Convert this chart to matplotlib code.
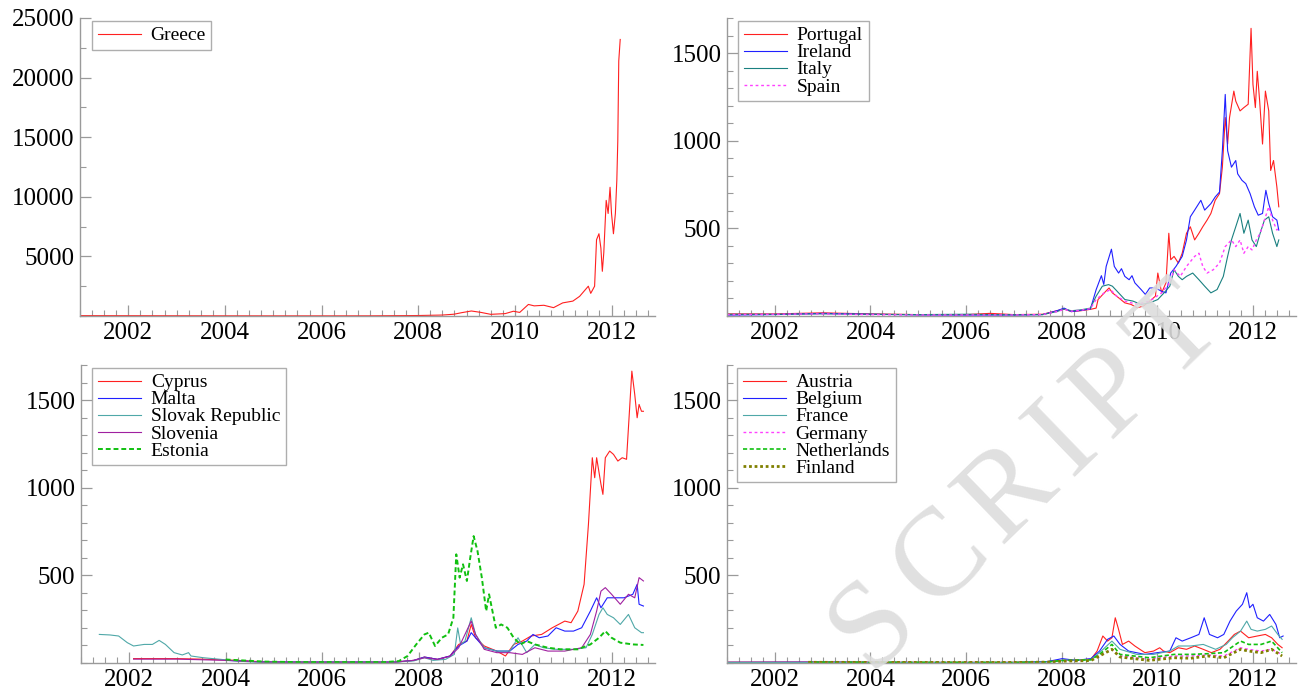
import matplotlib
matplotlib.use('Agg')
import matplotlib.pyplot as plt
from matplotlib.ticker import MultipleLocator, FixedLocator

plt.rcParams['font.family'] = ['Liberation Serif', 'DejaVu Serif']

# ---- data (decimal year, spread) ----
greece_x = [2001.0, 2002.0, 2003.0, 2004.0, 2005.0, 2006.0, 2007.0, 2008.0, 2008.5, 2008.74,
            2008.9, 2009.1, 2009.3, 2009.5, 2009.8, 2009.97, 2010.1, 2010.28, 2010.4, 2010.6,
            2010.8, 2010.99, 2011.2, 2011.34, 2011.52, 2011.57, 2011.65, 2011.69, 2011.74, 2011.78,
            2011.81, 2011.84, 2011.89, 2011.93, 2011.97, 2012.0, 2012.04, 2012.08, 2012.11, 2012.13,
            2012.15, 2012.18]
greece_y = [30, 25, 20, 15, 12, 12, 15, 40, 80, 150,
            280, 420, 300, 140, 200, 400, 300, 970, 850, 900,
            700, 1100, 1250, 1650, 2500, 1900, 2500, 6400, 6900, 5700,
            3750, 5300, 9700, 8600, 10800, 8600, 6900, 8600, 11400, 14700,
            21400, 23200]

portugal_x = [2001.0, 2002.0, 2003.0, 2004.0, 2005.0, 2006.0, 2006.5, 2007.0, 2007.6, 2007.9,
              2008.05, 2008.2, 2008.4, 2008.6, 2008.72, 2008.76, 2008.89, 2008.99, 2009.06, 2009.19,
              2009.32, 2009.45, 2009.58, 2009.71, 2009.84, 2009.96, 2010.01, 2010.09, 2010.18, 2010.24,
              2010.28, 2010.35, 2010.44, 2010.52, 2010.61, 2010.69, 2010.78, 2010.87, 2010.95, 2011.04,
              2011.12, 2011.21, 2011.30, 2011.36, 2011.42, 2011.47, 2011.51, 2011.60, 2011.64, 2011.73,
              2011.81, 2011.90, 2011.96, 2012.00, 2012.05, 2012.09, 2012.14, 2012.20, 2012.26, 2012.33,
              2012.37, 2012.43, 2012.50, 2012.54]
portugal_y = [12, 12, 18, 12, 8, 8, 15, 8, 10, 30,
              40, 25, 30, 38, 45, 94, 132, 160, 132, 104,
              75, 66, 47, 57, 85, 113, 245, 132, 189, 472,
              321, 340, 302, 358, 472, 509, 434, 472, 509, 547,
              585, 660, 698, 849, 1132, 981, 1132, 1283, 1226, 1170,
              1189, 1208, 1641, 1321, 1189, 1396, 1226, 981, 1283, 1170,
              830, 887, 736, 623]

ireland_x = [2001.0, 2002.0, 2003.0, 2004.0, 2005.0, 2006.0, 2007.0, 2007.6, 2007.9, 2008.05,
             2008.2, 2008.4, 2008.6, 2008.72, 2008.83, 2008.88, 2008.93, 2009.04, 2009.10, 2009.19,
             2009.25, 2009.32, 2009.41, 2009.47, 2009.53, 2009.66, 2009.75, 2009.84, 2009.96, 2010.09,
             2010.18, 2010.28, 2010.39, 2010.52, 2010.61, 2010.69, 2010.78, 2010.91, 2010.99, 2011.12,
             2011.21, 2011.30, 2011.36, 2011.42, 2011.47, 2011.55, 2011.64, 2011.68, 2011.77, 2011.85,
             2011.94, 2012.03, 2012.11, 2012.20, 2012.27, 2012.33, 2012.41, 2012.50, 2012.54]
ireland_y = [5, 8, 15, 10, 6, 5, 5, 8, 30, 45,
             25, 32, 40, 150, 230, 180, 283, 381, 283, 245,
             270, 226, 207, 230, 189, 151, 123, 160, 160, 141,
             132, 245, 283, 340, 434, 566, 604, 660, 604, 641,
             679, 707, 943, 1264, 943, 849, 887, 811, 774, 755,
             698, 623, 575, 585, 717, 641, 566, 547, 490]

italy_x = [2001.0, 2002.0, 2003.0, 2004.0, 2005.0, 2006.0, 2007.0, 2007.6, 2007.9, 2008.05,
           2008.2, 2008.4, 2008.6, 2008.72, 2008.85, 2008.98, 2009.06, 2009.19, 2009.32, 2009.49,
           2009.66, 2009.84, 2010.01, 2010.14, 2010.26, 2010.35, 2010.44, 2010.52, 2010.61, 2010.74,
           2010.87, 2010.99, 2011.12, 2011.25, 2011.38, 2011.47, 2011.55, 2011.64, 2011.73, 2011.81,
           2011.90, 2011.98, 2012.07, 2012.15, 2012.24, 2012.33, 2012.41, 2012.50, 2012.54]
italy_y = [10, 10, 12, 10, 8, 10, 7, 8, 25, 40,
           30, 35, 45, 113, 170, 179, 170, 132, 94, 85,
           66, 75, 94, 132, 170, 264, 226, 207, 226, 245,
           207, 170, 132, 151, 226, 340, 434, 509, 585, 472,
           547, 434, 396, 472, 547, 566, 472, 396, 434]

spain_x = [2001.0, 2002.0, 2003.0, 2004.0, 2005.0, 2006.0, 2007.0, 2007.6, 2007.9, 2008.05,
           2008.2, 2008.4, 2008.6, 2008.72, 2008.89, 2009.02, 2009.15, 2009.32, 2009.58, 2009.84,
           2010.09, 2010.26, 2010.35, 2010.48, 2010.61, 2010.78, 2010.87, 2010.95, 2011.04, 2011.17,
           2011.30, 2011.42, 2011.55, 2011.64, 2011.73, 2011.81, 2011.90, 2011.98, 2012.07, 2012.15,
           2012.24, 2012.33, 2012.41, 2012.50, 2012.54]
spain_y = [8, 10, 12, 8, 6, 6, 6, 8, 25, 38,
           28, 33, 42, 94, 132, 151, 113, 85, 66, 85,
           132, 189, 264, 226, 283, 340, 358, 283, 245, 264,
           302, 396, 434, 396, 434, 358, 396, 377, 434, 472,
           547, 623, 547, 490, 509]

cyprus_x = [2002.09, 2003.0, 2003.5, 2004.25, 2004.8, 2005.5, 2006.5, 2007.5, 2007.9, 2008.12,
            2008.39, 2008.65, 2008.83, 2009.00, 2009.09, 2009.18, 2009.36, 2009.62, 2009.80, 2009.97,
            2010.15, 2010.33, 2010.55, 2010.77, 2011.03, 2011.16, 2011.30, 2011.43, 2011.52, 2011.60,
            2011.65, 2011.69, 2011.78, 2011.82, 2011.87, 2011.96, 2012.04, 2012.13, 2012.22, 2012.31,
            2012.37, 2012.42, 2012.48, 2012.53, 2012.57, 2012.62, 2012.66]
cyprus_y = [25, 25, 22, 15, 6, 5, 5, 5, 15, 34,
            21, 40, 106, 125, 220, 144, 97, 68, 40, 106,
            125, 154, 163, 201, 239, 230, 296, 449, 791, 1171,
            1057, 1171, 1019, 962, 1171, 1209, 1190, 1152, 1171, 1162,
            1436, 1665, 1532, 1399, 1475, 1436, 1436]

malta_x = [2004.0, 2004.8, 2005.5, 2006.5, 2007.5, 2007.9, 2008.12, 2008.39, 2008.65, 2008.83,
           2009.00, 2009.09, 2009.18, 2009.36, 2009.62, 2009.89, 2010.06, 2010.24, 2010.37, 2010.50,
           2010.68, 2010.85, 2011.03, 2011.21, 2011.38, 2011.56, 2011.69, 2011.78, 2011.91, 2012.09,
           2012.26, 2012.44, 2012.53, 2012.57, 2012.66]
malta_y = [15, 6, 5, 5, 5, 15, 34, 21, 40, 97,
           125, 173, 144, 87, 68, 68, 106, 125, 163, 144,
           154, 201, 182, 182, 201, 296, 372, 315, 372, 372,
           372, 392, 449, 335, 325]

slovak_x = [2001.38, 2001.60, 2001.78, 2001.96, 2002.09, 2002.31, 2002.48, 2002.62, 2002.75, 2002.93,
            2003.10, 2003.23, 2003.28, 2003.54, 2003.89, 2004.25, 2004.60, 2005.5, 2006.5, 2007.5,
            2007.9, 2008.12, 2008.30, 2008.56, 2008.74, 2008.81, 2008.87, 2008.96, 2009.09, 2009.18,
            2009.36, 2009.62, 2009.89, 2010.06, 2010.24, 2010.41, 2010.59, 2010.85, 2011.21, 2011.47,
            2011.60, 2011.74, 2011.82, 2011.91, 2012.04, 2012.18, 2012.35, 2012.48, 2012.62, 2012.66]
slovak_y = [163, 160, 154, 116, 97, 106, 106, 129, 106, 59,
            46, 59, 40, 30, 21, 11, 5, 5, 6, 5,
            12, 30, 15, 21, 49, 200, 106, 125, 258, 163,
            87, 68, 68, 144, 59, 106, 87, 78, 78, 87,
            163, 277, 315, 277, 258, 220, 277, 201, 173, 173]

slovenia_x = [2002.09, 2003.0, 2004.0, 2004.8, 2005.5, 2006.5, 2007.5, 2007.9, 2008.12, 2008.39,
              2008.65, 2008.83, 2009.09, 2009.18, 2009.36, 2009.62, 2009.89, 2010.15, 2010.41, 2010.68,
              2011.03, 2011.38, 2011.56, 2011.69, 2011.78, 2011.87, 2012.00, 2012.18, 2012.35, 2012.48,
              2012.57, 2012.66]
slovenia_y = [22, 22, 15, 6, 5, 5, 5, 15, 30, 20,
              38, 87, 239, 163, 78, 59, 59, 49, 87, 68,
              68, 87, 163, 296, 410, 430, 392, 335, 392, 372,
              487, 468]

estonia_x = [2004.0, 2004.8, 2005.5, 2006.5, 2007.3, 2007.59, 2007.77, 2007.95, 2008.12, 2008.21,
             2008.34, 2008.48, 2008.61, 2008.72, 2008.78, 2008.85, 2008.92, 2009.00, 2009.07, 2009.14,
             2009.22, 2009.31, 2009.40, 2009.46, 2009.53, 2009.60, 2009.71, 2009.84, 2009.97, 2010.11,
             2010.24, 2010.41, 2010.68, 2010.94, 2011.30, 2011.56, 2011.74, 2011.87, 2012.00, 2012.18,
             2012.44, 2012.66]
estonia_y = [20, 8, 5, 5, 5, 11, 40, 106, 163, 173,
             97, 144, 163, 258, 620, 487, 563, 468, 601, 724,
             639, 487, 296, 392, 296, 201, 220, 201, 144, 106,
             125, 106, 87, 78, 78, 106, 144, 182, 144, 116,
             106, 103]

austria_x = [2001.0, 2003.0, 2005.0, 2007.0, 2007.7, 2008.01, 2008.61, 2008.74, 2008.86, 2008.96,
             2009.05, 2009.12, 2009.18, 2009.27, 2009.40, 2009.53, 2009.74, 2009.92, 2010.05, 2010.13,
             2010.26, 2010.44, 2010.61, 2010.78, 2010.96, 2011.13, 2011.31, 2011.48, 2011.61, 2011.74,
             2011.91, 2012.09, 2012.26, 2012.39, 2012.52, 2012.61]
austria_y = [5, 6, 4, 4, 8, 15, 21, 68, 154, 125,
             144, 258, 201, 106, 125, 97, 59, 68, 87, 68,
             59, 87, 78, 97, 78, 59, 78, 125, 163, 182,
             144, 154, 163, 144, 106, 87]

belgium_x = [2001.0, 2003.0, 2005.0, 2007.0, 2007.7, 2008.01, 2008.3, 2008.61, 2008.79, 2008.96,
             2009.09, 2009.22, 2009.40, 2009.74, 2010.00, 2010.26, 2010.39, 2010.52, 2010.70, 2010.87,
             2010.98, 2011.09, 2011.26, 2011.39, 2011.52, 2011.65, 2011.78, 2011.87, 2011.93, 2012.00,
             2012.09, 2012.22, 2012.35, 2012.48, 2012.56, 2012.63]
belgium_y = [4, 5, 3, 3, 8, 25, 15, 25, 68, 135,
             154, 106, 68, 49, 59, 68, 144, 125, 144, 163,
             258, 163, 144, 163, 239, 296, 335, 401, 315, 335,
             258, 239, 277, 220, 144, 154]

france_x = [2001.0, 2005.0, 2007.0, 2007.7, 2008.01, 2008.61, 2008.79, 2009.05, 2009.22, 2009.57,
            2009.92, 2010.26, 2010.44, 2010.70, 2010.96, 2011.22, 2011.44, 2011.57, 2011.74, 2011.87,
            2011.96, 2012.09, 2012.26, 2012.39, 2012.52, 2012.61]
france_y = [3, 3, 3, 6, 15, 20, 59, 125, 78, 49,
            49, 68, 97, 97, 106, 78, 106, 144, 182, 239,
            192, 182, 192, 211, 163, 135]

germany_x = [2002.7, 2005.0, 2007.0, 2007.7, 2008.01, 2008.61, 2008.79, 2009.05, 2009.22, 2009.83,
             2010.35, 2010.70, 2011.05, 2011.39, 2011.74, 2011.91, 2012.17, 2012.39, 2012.61]
germany_y = [5, 3, 3, 5, 12, 15, 40, 78, 40, 21,
             40, 40, 46, 40, 87, 78, 68, 78, 49]

netherlands_x = [2002.7, 2005.0, 2007.0, 2007.7, 2008.01, 2008.61, 2008.79, 2009.05, 2009.22, 2009.83,
                 2010.35, 2010.70, 2011.05, 2011.39, 2011.74, 2011.91, 2012.17, 2012.39, 2012.61]
netherlands_y = [5, 4, 3, 6, 14, 18, 49, 106, 49, 30,
                 49, 49, 53, 59, 125, 106, 106, 125, 59]

finland_x = [2002.7, 2005.0, 2007.0, 2007.7, 2008.01, 2008.61, 2008.79, 2009.05, 2009.22, 2009.83,
             2010.35, 2010.70, 2011.05, 2011.39, 2011.74, 2011.91, 2012.17, 2012.39, 2012.61]
finland_y = [4, 3, 3, 5, 10, 14, 40, 78, 34, 15,
             30, 27, 40, 30, 78, 68, 59, 78, 40]

RED = '#ff2020'
BLUE = '#2020ff'
TEAL = '#1a8080'
LTEAL = '#4fa8a8'
MAG = '#ff40ff'
GREEN = '#10c010'
PURPLE = '#a020a0'
OLIVE = '#808000'
GRAY = '#9a9a9a'

fig = plt.figure(figsize=(12.99, 6.97), dpi=100)
W, H = 1299, 697


def make_ax(left, top, right, bottom):
    return fig.add_axes([left / W, 1 - bottom / H, (right - left) / W, (bottom - top) / H])


def style(ax, ymax, major, minor):
    ax.set_xlim(2001.0, 2012.9)
    ax.set_ylim(0, ymax)
    ax.xaxis.set_major_locator(FixedLocator([2002, 2004, 2006, 2008, 2010, 2012]))
    ax.xaxis.set_minor_locator(MultipleLocator(0.25))
    ax.yaxis.set_major_locator(FixedLocator(list(range(major, int(ymax) + 1, major))))
    ax.yaxis.set_minor_locator(MultipleLocator(minor))
    for s in ['top', 'right']:
        ax.spines[s].set_visible(False)
    for s in ['left', 'bottom']:
        ax.spines[s].set_color(GRAY)
        ax.spines[s].set_linewidth(1.0)
    ax.tick_params(which='major', direction='in', length=8, width=0.9, color=GRAY,
                   labelsize=18, pad=4)
    ax.tick_params(which='minor', direction='in', length=4, width=0.8, color=GRAY)
    ax.xaxis.get_major_formatter().set_useOffset(False)


def legend(ax, x):
    leg = ax.legend(loc='upper left', bbox_to_anchor=(x, 0.99), borderaxespad=0,
                    fontsize=14, frameon=True, fancybox=False, handlelength=2.2,
                    handletextpad=0.5, labelspacing=-0.03, borderpad=0.3)
    leg.get_frame().set_edgecolor(GRAY)
    leg.get_frame().set_linewidth(1.0)


lw = 0.8

ax1 = make_ax(80, 18, 655, 316)
ax1.plot(greece_x, greece_y, color=RED, lw=lw, label='Greece')
style(ax1, 25000, 5000, 2500)
legend(ax1, 0.021)

ax2 = make_ax(727, 18, 1296, 316)
ax2.plot(portugal_x, portugal_y, color=RED, lw=lw, label='Portugal')
ax2.plot(ireland_x, ireland_y, color=BLUE, lw=lw, label='Ireland')
ax2.plot(italy_x, italy_y, color=TEAL, lw=lw, label='Italy')
ax2.plot(spain_x, spain_y, color=MAG, lw=1.0, ls=(0, (2, 2)), label='Spain')
style(ax2, 1700, 500, 100)
legend(ax2, 0.020)

ax3 = make_ax(81, 365, 655, 663)
ax3.plot(cyprus_x, cyprus_y, color=RED, lw=lw, label='Cyprus')
ax3.plot(malta_x, malta_y, color=BLUE, lw=lw, label='Malta')
ax3.plot(slovak_x, slovak_y, color=LTEAL, lw=lw, label='Slovak Republic')
ax3.plot(slovenia_x, slovenia_y, color=PURPLE, lw=lw, label='Slovenia')
ax3.plot(estonia_x, estonia_y, color=GREEN, lw=1.4, ls=(0, (2.5, 1.5)), label='Estonia')
style(ax3, 1700, 500, 100)
legend(ax3, 0.020)

ax4 = make_ax(727, 365, 1296, 663)
ax4.plot(austria_x, austria_y, color=RED, lw=lw, label='Austria')
ax4.plot(belgium_x, belgium_y, color=BLUE, lw=lw, label='Belgium')
ax4.plot(france_x, france_y, color=LTEAL, lw=lw, label='France')
ax4.plot(germany_x, germany_y, color=MAG, lw=1.0, ls=(0, (2, 2)), label='Germany')
ax4.plot(netherlands_x, netherlands_y, color=GREEN, lw=1.2, ls=(0, (2.5, 1.5)), label='Netherlands')
ax4.plot(finland_x, finland_y, color=OLIVE, lw=2.0, ls=(0, (1, 1)), label='Finland')
style(ax4, 1700, 500, 100)
legend(ax4, 0.018)

# faint watermark letters crossing the lower right panel
wm_letters = ['S', 'C', 'R', 'I', 'P', 'T']
wm_px = [874, 942, 1010, 1065, 1114, 1178]
wm_py = [626, 560, 494, 441, 394, 334]
for ch, px, py in zip(wm_letters, wm_px, wm_py):
    fig.text(px / W, 1 - py / H, ch, fontsize=90, color='#dddddd', alpha=0.9,
             rotation=44, rotation_mode='anchor', ha='center', va='center')

fig.savefig('out.png', dpi=100)
